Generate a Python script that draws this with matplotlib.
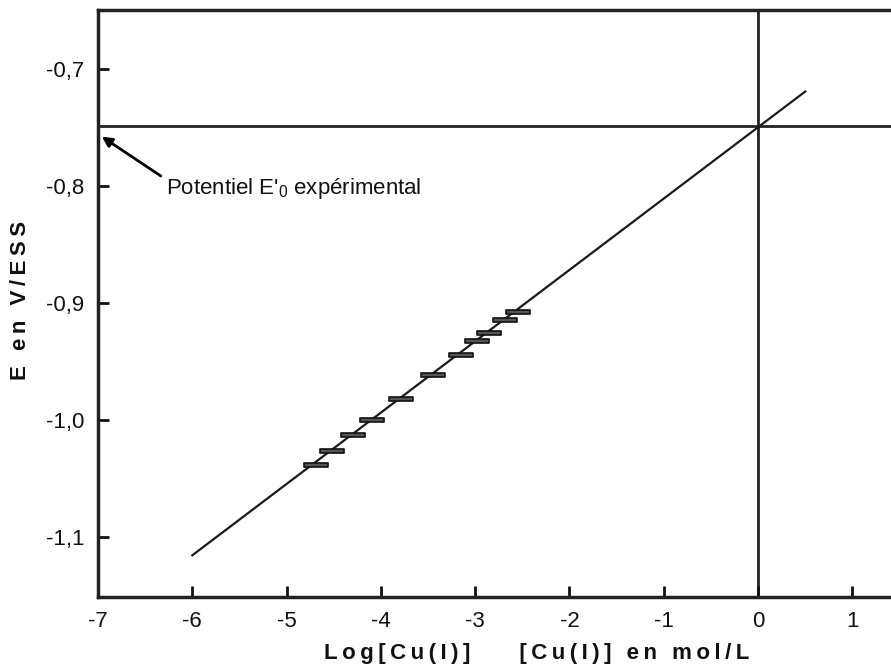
import matplotlib.pyplot as plt
import numpy as np
from matplotlib.path import Path

plt.rcParams['font.family'] = ['Liberation Sans', 'DejaVu Sans']
plt.rcParams['mathtext.fontset'] = 'custom'
plt.rcParams['mathtext.rm'] = 'Liberation Sans'

# measured points: log[Cu(I)] and potential (V/ESS)
log_cu = [-4.69, -4.52, -4.30, -4.09, -3.79, -3.45, -3.15, -2.98, -2.85, -2.68, -2.55]
potential = [-1.0385, -1.0265, -1.0128, -1.000, -0.982, -0.9615, -0.944,
             -0.9325, -0.9256, -0.9145, -0.9077]

# linear fit
fit_range = [-6.0, 0.5]
fit_slope = 0.0609
fit_intercept = -0.750

e0_exp = -0.749

x_ticks = [-7, -6, -5, -4, -3, -2, -1, 0, 1]
y_ticks = [-0.7, -0.8, -0.9, -1.0, -1.1]
y_ticklabels = ['-0,7', '-0,8', '-0,9', '-1,0', '-1,1']


def spaced(s, sep='\u2009'):
    ''' put a thin space between letters, like the letter-spaced labels '''
    return sep.join(s)


fig = plt.figure(figsize=(8.91, 6.72), dpi=100)
ax = fig.add_axes([0.110, 0.1116, 0.890, 0.8734])

# fitted line
xf = np.array(fit_range)
ax.plot(xf, fit_slope*xf + fit_intercept, color='#1a1a1a', lw=1.6, zorder=2)

# reference lines
ax.axvline(0, color='#222222', lw=2, zorder=1)
ax.axhline(e0_exp, color='#222222', lw=2, zorder=1)

# small rectangle markers for the points
box = Path([(-1, -0.17), (1, -0.17), (1, 0.17), (-1, 0.17), (-1, -0.17)],
           [Path.MOVETO, Path.LINETO, Path.LINETO, Path.LINETO, Path.CLOSEPOLY])
ax.plot(log_cu, potential, ls='none', marker=box, markersize=17,
        markerfacecolor='#555555', markeredgecolor='#111111', mew=1.2, zorder=3)

ax.annotate("Potentiel E'$_{0}$ expérimental", xy=(-6.96, -0.758), xytext=(-6.28, -0.802),
            fontsize=16, va='center', ha='left', color='#111111',
            arrowprops=dict(arrowstyle='-|>', color='black', lw=2, relpos=(0, 0.85),
                            mutation_scale=15, shrinkA=2, shrinkB=0))

ax.set_xlim(-7, 1.41)
ax.set_ylim(-1.151, -0.65)

ax.set_xticks(x_ticks)
ax.set_xticklabels([str(v) for v in x_ticks])
ax.set_yticks(y_ticks)
ax.set_yticklabels(y_ticklabels)
ax.tick_params(direction='in', length=8, width=2, labelsize=16, pad=10, colors='#111111')

for side in ['left', 'bottom', 'top']:
    ax.spines[side].set_linewidth(2.5)
    ax.spines[side].set_color('#222222')
ax.spines['right'].set_visible(False)

ax.set_xlabel(spaced('Log[Cu(I)]') + '        ' + spaced('[Cu(I)] en mol/L'),
              fontsize=16, fontweight='bold', color='#111111')
ax.xaxis.set_label_coords(0.553, -0.078)
ax.set_ylabel(spaced('E en V/ESS'), fontsize=16, fontweight='bold', color='#111111')
ax.yaxis.set_label_coords(-0.085, 0.505)

fig.savefig('out.png', dpi=100)
